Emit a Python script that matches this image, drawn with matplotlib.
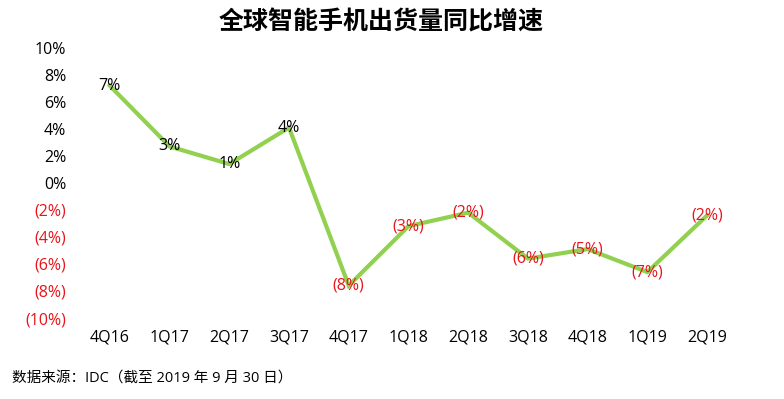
import matplotlib
matplotlib.use("Agg")
import matplotlib.pyplot as plt
import numpy as np

plt.rcParams['font.family'] = ['Open Sans', 'Noto Sans CJK SC', 'DejaVu Sans']

quarters = ['4Q16', '1Q17', '2Q17', '3Q17', '4Q17', '1Q18', '2Q18', '3Q18', '4Q18', '1Q19', '2Q19']
growth = [7.2, 2.7, 1.4, 4.1, -7.6, -3.2, -2.2, -5.6, -4.9, -6.6, -2.4]
yticks = [10, 8, 6, 4, 2, 0, -2, -4, -6, -8, -10]

title = '全球智能手机出货量同比增速'
source = '数据来源：IDC（截至 2019 年 9 月 30 日）'

RED = '#E8141B'
GREEN = '#92D050'


def fmt(v):
    r = int(round(abs(v)))
    return f'{r}%' if v >= 0 else f'({r}%)'


fig = plt.figure(figsize=(7.84, 3.99), dpi=100)
ax = fig.add_axes([0.102, 0.203, 0.838, 0.677])

x = np.arange(len(quarters))
ax.plot(x, growth, color=GREEN, linewidth=3, solid_joinstyle='miter', zorder=2)

for xi, v in zip(x, growth):
    ax.text(xi, v, fmt(v), ha='center', va='center', fontsize=11.5,
            color='black' if v >= 0 else RED, zorder=3)

ax.set_xlim(-0.5, len(quarters) - 0.5)
ax.set_ylim(-10, 10)
ax.set_xticks(x)
ax.set_xticklabels(quarters, fontsize=11.5)
ax.set_yticks(yticks)
ax.set_yticklabels([fmt(t) for t in yticks], fontsize=11.5)
for lbl, t in zip(ax.get_yticklabels(), yticks):
    lbl.set_color('black' if t >= 0 else RED)

ax.tick_params(length=0, pad=10)
ax.tick_params(axis='x', pad=8)
for s in ax.spines.values():
    s.set_visible(False)

fig.text(0.486, 0.945, title, ha='center', va='center', fontsize=18, fontweight='bold',
         family=['Noto Sans CJK SC'])
fig.text(0.015, 0.052, source, ha='left', va='center', fontsize=10.5)

fig.savefig('out.png', dpi=100)
